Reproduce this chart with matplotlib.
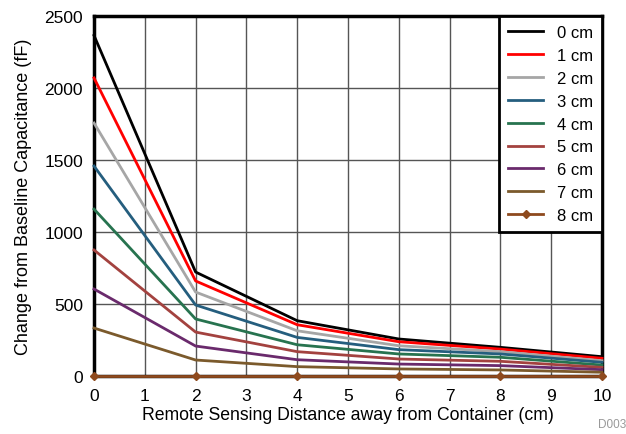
import matplotlib
matplotlib.use('Agg')
import matplotlib.pyplot as plt

plt.rcParams['font.family'] = ['Liberation Sans', 'DejaVu Sans']

# remote sensing distance (cm)
distance = [0, 2, 4, 6, 8, 10]

# change from baseline capacitance (fF), one list per container offset
cap_0cm = [2365, 722, 384, 257, 199, 134]
cap_1cm = [2070, 660, 356, 238, 187, 123]
cap_2cm = [1757, 583, 314, 210, 169, 106]
cap_3cm = [1458, 493, 268, 183, 153, 95]
cap_4cm = [1159, 396, 217, 153, 130, 76]
cap_5cm = [875, 305, 169, 118, 102, 60]
cap_6cm = [604, 208, 113, 83, 72, 44]
cap_7cm = [333, 111, 65, 49, 42, 26]
cap_8cm = [0, 0, 0, 0, 0, 0]

series = [cap_0cm, cap_1cm, cap_2cm, cap_3cm, cap_4cm,
          cap_5cm, cap_6cm, cap_7cm]
labels = ['0 cm', '1 cm', '2 cm', '3 cm', '4 cm', '5 cm', '6 cm', '7 cm', '8 cm']
colors = ['#000000', '#FF0000', '#A6A6A6', '#255E7E', '#27734F',
          '#A3423F', '#6A2A6C', '#7B5A2C', '#8E4A1E']

fig = plt.figure(figsize=(6.26, 4.35), dpi=100)
ax = fig.add_axes([94 / 626, 1 - 377 / 435, 508 / 626, 360 / 435])

for vals, lab, col in zip(series, labels, colors):
    ax.plot(distance, vals, color=col, lw=2, label=lab, clip_on=False, zorder=3)
ax.plot(distance, cap_8cm, color=colors[8], lw=2, marker='D', ms=4,
        label=labels[8], clip_on=False, zorder=4)

ax.set_xlim(0, 10)
ax.set_ylim(0, 2500)
ax.set_xticks(range(0, 11))
ax.set_yticks(range(0, 2501, 500))
ax.grid(True, color='#555555', lw=1)
ax.set_axisbelow(True)
ax.tick_params(length=0, labelsize=12.5)
ax.tick_params(axis='x', pad=9)
ax.tick_params(axis='y', pad=8)
for sp in ax.spines.values():
    sp.set_linewidth(2.5)

ax.set_xlabel('Remote Sensing Distance away from Container (cm)', fontsize=12.7, labelpad=2)
ax.set_ylabel('Change from Baseline Capacitance (fF)', fontsize=13, labelpad=9)

leg = ax.legend(loc='upper right', fontsize=12, frameon=True, fancybox=False,
                borderaxespad=0, handlelength=2.1, labelspacing=0.47,
                handletextpad=0.8, borderpad=0.55)
leg.get_frame().set_edgecolor('black')
leg.get_frame().set_linewidth(2)
leg.get_frame().set_alpha(1)

fig.text(598 / 626, 1 - 425 / 435, 'D003', fontsize=8.5, color='#999999',
         ha='left', va='center')

fig.savefig('out.png', dpi=100)
